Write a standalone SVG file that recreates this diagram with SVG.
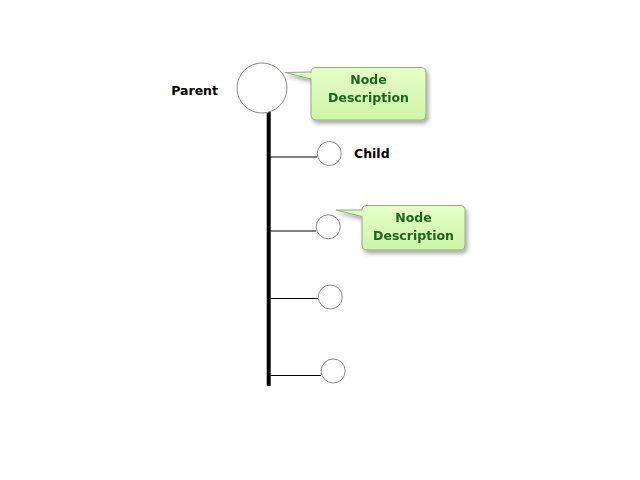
<svg xmlns="http://www.w3.org/2000/svg" width="640" height="480" viewBox="0 0 640 480">
<defs>
<linearGradient id="cg" x1="0" y1="0" x2="0" y2="1">
<stop offset="0" stop-color="#e6ffc8"/>
<stop offset="1" stop-color="#ccf5a6"/>
</linearGradient>
<filter id="sh" x="-20%" y="-20%" width="140%" height="150%">
<feGaussianBlur in="SourceAlpha" stdDeviation="2"/>
<feOffset dx="2" dy="3"/>
<feComponentTransfer><feFuncA type="linear" slope="0.35"/></feComponentTransfer>
<feMerge><feMergeNode/><feMergeNode in="SourceGraphic"/></feMerge>
</filter>
</defs>
<style>
.node{fill:#fff;stroke:#8c8c8c;stroke-width:1}
.lbl{font-family:"DejaVu Sans",Verdana,sans-serif;font-weight:bold;font-size:12.5px;fill:#000}
.call{fill:url(#cg);stroke:#95a882;stroke-width:1}
.ctext{font-family:"DejaVu Sans",Verdana,sans-serif;font-weight:bold;font-size:12.5px;fill:#1a661a;text-anchor:middle}
.conn{stroke:#000;stroke-width:1;fill:none}
</style>
<rect width="640" height="480" fill="#fff"/>
<g id="connectors">
<line x1="268.7" y1="112" x2="268.7" y2="386" stroke="#000" stroke-width="4"/>
<line class="conn" x1="268" y1="157" x2="317" y2="157"/>
<line class="conn" x1="268" y1="231" x2="316" y2="231"/>
<line class="conn" x1="268" y1="298.5" x2="318" y2="298.5"/>
<line class="conn" x1="268" y1="375.5" x2="321" y2="375.5"/>
</g>
<g id="parent">
<circle class="node" cx="262" cy="88" r="25"/>
<text class="lbl" x="218" y="95" text-anchor="end">Parent</text>
</g>
<g id="child1">
<circle class="node" cx="329.3" cy="153.5" r="12"/>
<text class="lbl" x="354" y="158">Child</text>
</g>
<g id="child2">
<circle class="node" cx="328.3" cy="226.8" r="12"/>
</g>
<g id="child3">
<circle class="node" cx="330.3" cy="297" r="12"/>
</g>
<g id="child4">
<circle class="node" cx="333.2" cy="371" r="12"/>
</g>
<g id="callout1" filter="url(#sh)">
<path class="call" d="M316,67.5 H421 Q426,67.5 426,72.5 V115 Q426,120 421,120 H316 Q311,120 311,115 V79 L285,72.5 L311,72 V72.5 Q311,67.5 316,67.5 Z"/>
<text class="ctext" x="368.5" y="84">Node</text>
<text class="ctext" x="368.5" y="102">Description</text>
</g>
<g id="callout2" filter="url(#sh)">
<path class="call" d="M367,205.5 H460 Q465,205.5 465,210.5 V245 Q465,250 460,250 H367 Q362,250 362,245 V216.5 L336,210 L362,210 Q362,205.5 367,205.5 Z"/>
<text class="ctext" x="413.5" y="222">Node</text>
<text class="ctext" x="413.5" y="240">Description</text>
</g>
</svg>
